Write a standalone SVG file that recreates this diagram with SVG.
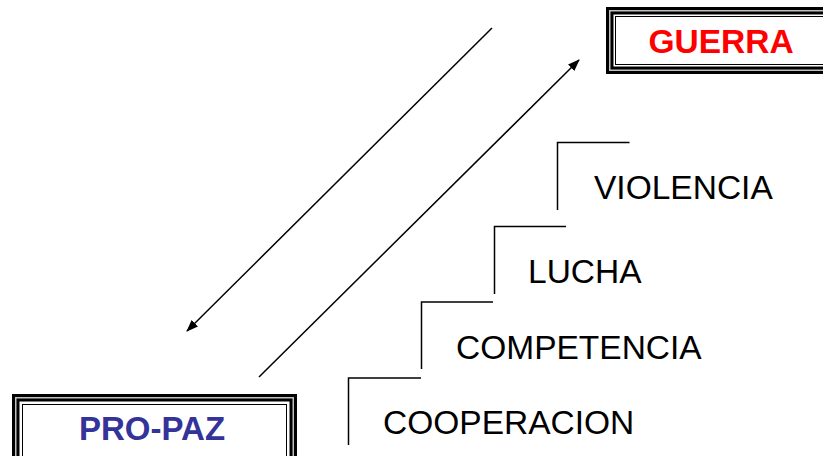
<svg xmlns="http://www.w3.org/2000/svg" width="823" height="456" viewBox="0 0 823 456">
<style>
.lbl{font-family:"Liberation Sans",Arial,sans-serif;font-size:33.5px;fill:#000}
.ttl{font-family:"Liberation Sans",Arial,sans-serif;font-weight:bold}
.step{fill:none;stroke:#000;stroke-width:1.5}
.conn{fill:none;stroke:#000;stroke-width:1.5}
</style>
<defs>
<marker id="ah" viewBox="0 0 12 9" refX="11" refY="4.5" markerWidth="12" markerHeight="9" markerUnits="userSpaceOnUse" orient="auto">
<path d="M0,0 L12,4.5 L0,9 z" fill="#000"/>
</marker>
</defs>
<rect width="823" height="456" fill="#fff"/>
<g id="connectors">
<line class="conn" x1="492" y1="28" x2="187" y2="331" marker-end="url(#ah)"/>
<line class="conn" x1="259" y1="377" x2="579" y2="60" marker-end="url(#ah)"/>
</g>
<g id="guerra">
<rect x="606" y="7" width="230" height="67" fill="#000"/>
<rect x="609" y="10" width="224" height="61" fill="#c0c0c0"/>
<rect x="610.5" y="11.5" width="221" height="58" fill="#000"/>
<rect x="613.5" y="14.5" width="215" height="52" fill="#fff"/>
<rect x="615.5" y="16.5" width="211" height="48" fill="none" stroke="#000" stroke-width="1"/>
<text class="ttl" x="648.5" y="53" font-size="33.5" fill="#ff0000">GUERRA</text>
</g>
<g id="propaz">
<rect x="12" y="394" width="285" height="80" fill="#000"/>
<rect x="15" y="397" width="279" height="74" fill="#c0c0c0"/>
<rect x="16.5" y="398.5" width="276" height="71" fill="#000"/>
<rect x="19.5" y="401.5" width="270" height="65" fill="#fff"/>
<rect x="22.5" y="404.5" width="264" height="59" fill="none" stroke="#000" stroke-width="1"/>
<text class="ttl" x="79" y="440" font-size="33" fill="#333399">PRO-PAZ</text>
</g>
<g id="violencia">
<polyline class="step" points="557.5,210 557.5,142.5 629.5,142.5"/>
<text class="lbl" x="594" y="199">VIOLENCIA</text>
</g>
<g id="lucha">
<polyline class="step" points="494.5,294 494.5,226.5 566,226.5"/>
<text class="lbl" x="528" y="283">LUCHA</text>
</g>
<g id="competencia">
<polyline class="step" points="421.5,369 421.5,302 493,302"/>
<text class="lbl" x="456" y="359">COMPETENCIA</text>
</g>
<g id="cooperacion">
<polyline class="step" points="348.5,445 348.5,378 421,378"/>
<text class="lbl" x="383" y="434">COOPERACION</text>
</g>
</svg>
